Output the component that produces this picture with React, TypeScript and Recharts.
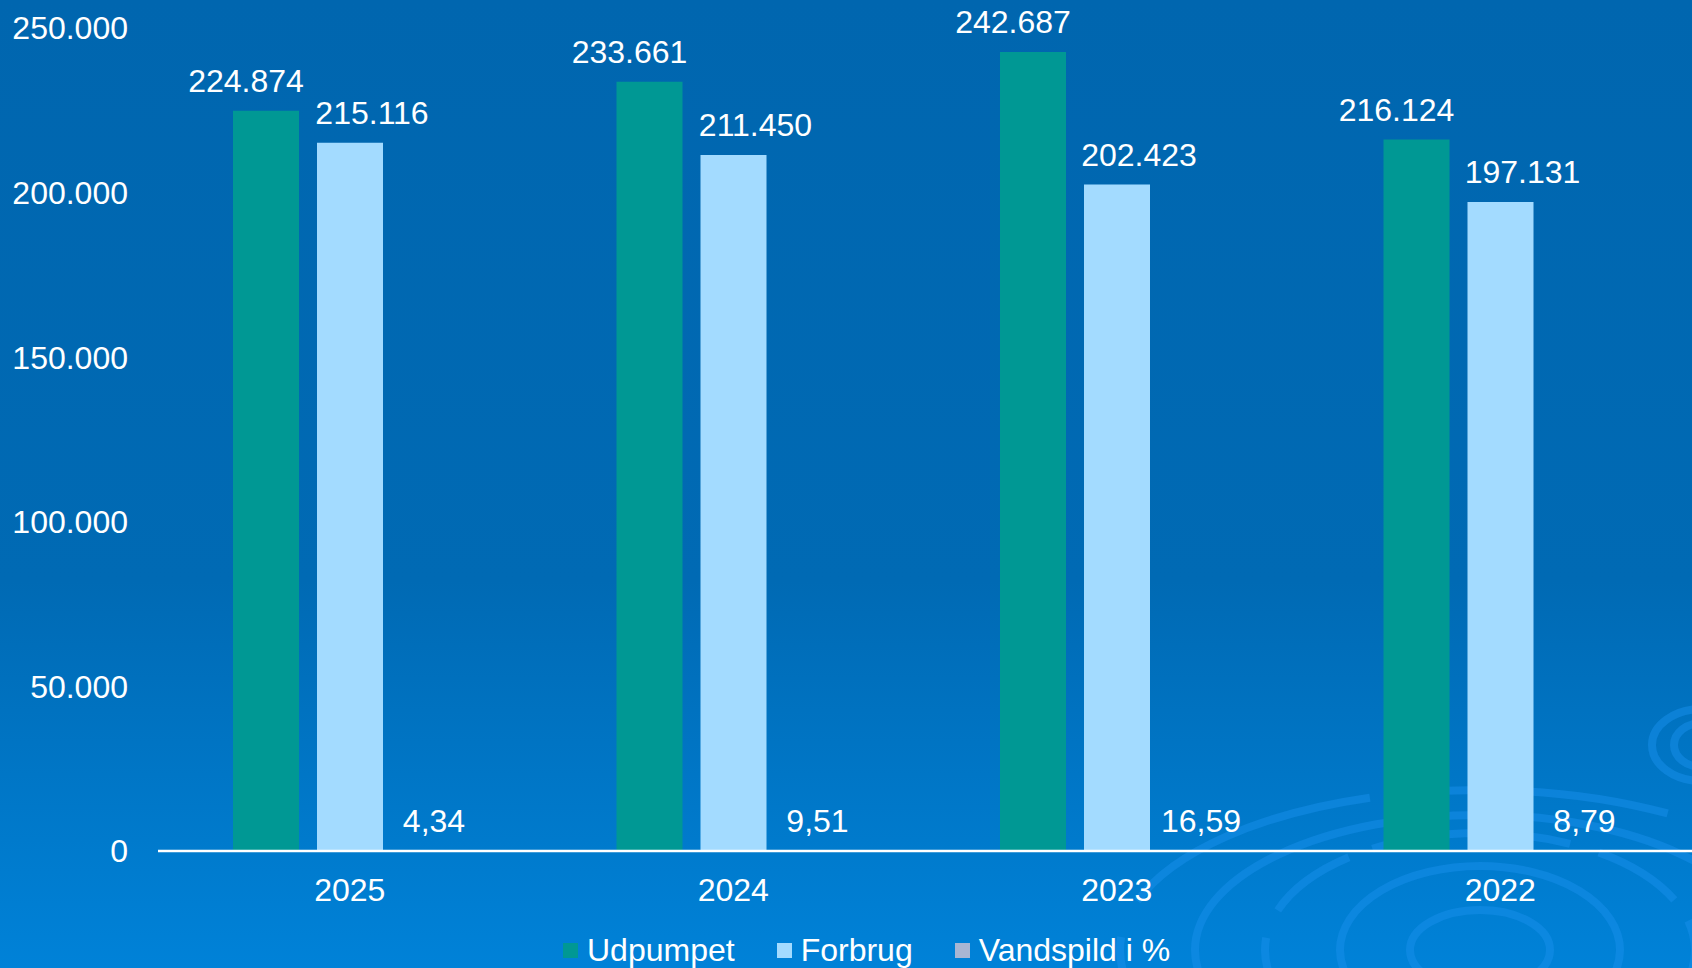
import React from 'react';
import { BarChart, Bar, XAxis, YAxis, Legend, LabelList } from 'recharts';

const years = ['2025', '2024', '2023', '2022'];
const udpumpet = [224874, 233661, 242687, 216124];
const forbrug = [215116, 211450, 202423, 197131];
const vandspild = [4.34, 9.51, 16.59, 8.79];
const yTicks = [0, 50000, 100000, 150000, 200000, 250000];

const series = [
    { key: 'udpumpet', name: 'Udpumpet', color: '#009894', dx: -20 },
    { key: 'forbrug', name: 'Forbrug', color: '#A3DBFF', dx: 22 },
    { key: 'vandspild', name: 'Vandspild i %', color: '#A8B6D3', dx: 0 }
];

const data = years.map((year, i) => ({
    year,
    udpumpet: udpumpet[i],
    forbrug: forbrug[i],
    vandspild: vandspild[i]
}));

const FONT = '"Liberation Sans", Arial, sans-serif';

// danish number style: 224.874 and 4,34
const formatDa = (v: number) => {
    if (Number.isInteger(v)) return String(v).replace(/\B(?=(\d{3})+(?!\d))/g, '.');
    return v.toFixed(2).replace('.', ',');
};

const makeLabel = (dx: number) => (props: any) => {
    const { x, y, width, value } = props;
    return (
        <text
            x={Number(x) + Number(width) / 2 + dx}
            y={Number(y) - 19}
            textAnchor="middle"
            fill="#FFFFFF"
            fontSize={32}
            fontFamily={FONT}
        >
            {formatDa(Number(value))}
        </text>
    );
};

const LegendContent = () => (
    <div style={{
        display: 'flex',
        alignItems: 'center',
        height: 35,
        paddingTop: 20,
        fontFamily: FONT,
        fontSize: 32,
        color: '#FFFFFF',
        whiteSpace: 'nowrap'
    }}>
        {series.map(s => (
            <div key={s.key} style={{ display: 'flex', alignItems: 'center', marginRight: 42 }}>
                <span style={{ display: 'inline-block', width: 15, height: 15, background: s.color, marginRight: 9 }} />
                <span>{s.name}</span>
            </div>
        ))}
    </div>
);

const Ripples = () => (
    <svg width={1692} height={968} style={{ position: 'absolute', left: 0, top: 0 }}>
        <g fill="none" stroke="#1890EC" strokeOpacity={0.5} strokeWidth={8}>
            <ellipse cx={1480} cy={950} rx={360} ry={160} strokeDasharray="260 40" />
            <ellipse cx={1480} cy={950} rx={285} ry={135} />
            <ellipse cx={1480} cy={950} rx={215} ry={117} strokeDasharray="200 30 90 25" />
            <ellipse cx={1480} cy={950} rx={140} ry={84} />
            <ellipse cx={1480} cy={950} rx={70} ry={40} />
            <ellipse cx={1702} cy={745} rx={50} ry={36} />
            <ellipse cx={1702} cy={745} rx={28} ry={22} />
        </g>
    </svg>
);

const App = () => {
    return (
        <div style={{
            position: 'absolute',
            left: 0,
            top: 0,
            width: 1692,
            height: 968,
            overflow: 'hidden',
            background: 'linear-gradient(180deg, #0066AF 0%, #006AB4 60%, #0082D8 100%)'
        }}>
            <Ripples />
            <div style={{ position: 'absolute', left: 0, top: 0 }}>
                <BarChart
                    width={1692}
                    height={968}
                    data={data}
                    margin={{ top: 28, right: 0, left: 0, bottom: 0 }}
                    barSize={66}
                    barGap={18}
                >
                    <XAxis
                        dataKey="year"
                        height={62}
                        axisLine={{ stroke: '#FFFFFF', strokeWidth: 2.5 }}
                        tickLine={false}
                        tickSize={0}
                        tickMargin={27}
                        tick={{ fill: '#FFFFFF', fontSize: 32, fontFamily: FONT }}
                    />
                    <YAxis
                        width={158}
                        domain={[0, 250000]}
                        ticks={yTicks}
                        axisLine={false}
                        tickLine={false}
                        tickSize={0}
                        tickMargin={30}
                        tickFormatter={formatDa}
                        tick={{ fill: '#FFFFFF', fontSize: 32, fontFamily: FONT }}
                    />
                    <Legend
                        verticalAlign="bottom"
                        height={55}
                        content={<LegendContent />}
                        wrapperStyle={{ left: 563, width: 720 }}
                    />
                    {series.map(s => (
                        <Bar key={s.key} dataKey={s.key} name={s.name} fill={s.color} isAnimationActive={false}>
                            <LabelList dataKey={s.key} content={makeLabel(s.dx)} />
                        </Bar>
                    ))}
                </BarChart>
            </div>
        </div>
    );
};

export default App;
